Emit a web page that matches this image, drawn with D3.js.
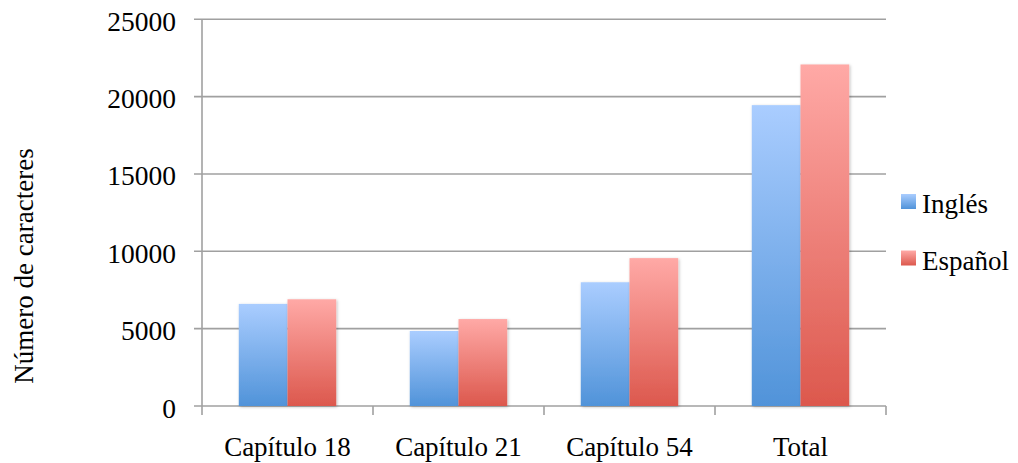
<html lang="es">
<head>
  <meta charset="utf-8">
  <title>Número de caracteres</title>
  <script src="https://d3js.org/d3.v7.min.js"></script>
  <style>
    body { margin: 0; background: #fff; }
    text { font-family: "Liberation Serif", "Times New Roman", serif; fill: #000; }
  </style>
</head>
<body>
  <svg width="1018" height="463"></svg>
  <script>
    const categories = ["Capítulo 18", "Capítulo 21", "Capítulo 54", "Total"];
    const series = ["Inglés", "Español"];
    const ingles = [6600, 4850, 8000, 19450];
    const espanol = [6900, 5620, 9560, 22080];
    const yTicks = [0, 5000, 10000, 15000, 20000, 25000];

    const values = [ingles, espanol];
    const svg = d3.select("svg");
    const plotLeft = 202, plotRight = 886, plotTop = 19.3, plotBottom = 406;

    const x0 = d3.scaleBand().domain(categories).range([plotLeft, plotRight]);
    const x1 = d3.scaleBand().domain(series).range([0, x0.bandwidth()]).paddingOuter(0.755);
    const y = d3.scaleLinear().domain([0, 25000]).range([plotBottom, plotTop]);

    const defs = svg.append("defs");
    const grads = [["gBlue", "#aacdff", "#5093d9"], ["gRed", "#ffa9a6", "#dc584d"]];
    grads.forEach(g => {
      const lg = defs.append("linearGradient").attr("id", g[0])
        .attr("x1", 0).attr("y1", 0).attr("x2", 0).attr("y2", 1);
      lg.append("stop").attr("offset", "0%").attr("stop-color", g[1]);
      lg.append("stop").attr("offset", "100%").attr("stop-color", g[2]);
    });
    defs.append("filter").attr("id", "shadow").attr("x", "-20%").attr("y", "-10%")
      .attr("width", "140%").attr("height", "120%")
      .append("feDropShadow").attr("dx", 1).attr("dy", 1).attr("stdDeviation", 1.5)
      .attr("flood-color", "#000").attr("flood-opacity", 0.25);

    // gridlines + y labels
    const grid = svg.append("g");
    grid.selectAll("line").data(yTicks).enter().append("line")
      .attr("x1", plotLeft - 8).attr("x2", plotRight)
      .attr("y1", d => y(d)).attr("y2", d => y(d))
      .attr("stroke", "#a0a0a0").attr("stroke-width", 1.6);
    grid.selectAll("text").data(yTicks).enter().append("text")
      .attr("x", 176).attr("y", d => y(d) + 11.5)
      .attr("text-anchor", "end").attr("font-size", 27.5)
      .text(d => d);

    // axis line and category ticks
    svg.append("line").attr("x1", plotLeft).attr("x2", plotLeft)
      .attr("y1", plotTop).attr("y2", plotBottom + 9)
      .attr("stroke", "#a0a0a0").attr("stroke-width", 1.6);
    svg.append("g").selectAll("line").data(categories).enter().append("line")
      .attr("x1", d => x0(d) + x0.bandwidth()).attr("x2", d => x0(d) + x0.bandwidth())
      .attr("y1", plotBottom).attr("y2", plotBottom + 9)
      .attr("stroke", "#a0a0a0").attr("stroke-width", 1.6);

    // bars
    const groups = svg.append("g").selectAll("g").data(categories).enter().append("g")
      .attr("transform", d => `translate(${x0(d)},0)`);
    groups.selectAll("rect")
      .data((d, i) => series.map((s, k) => ({ s: s, k: k, v: values[k][i] })))
      .enter().append("rect")
      .attr("x", d => x1(d.s))
      .attr("y", d => y(d.v))
      .attr("width", x1.bandwidth())
      .attr("height", d => plotBottom - y(d.v))
      .attr("fill", d => `url(#${grads[d.k][0]})`)
      .attr("filter", "url(#shadow)");

    // category labels
    svg.append("g").selectAll("text").data(categories).enter().append("text")
      .attr("x", d => x0(d) + x0.bandwidth() / 2).attr("y", 456)
      .attr("text-anchor", "middle").attr("font-size", 27)
      .text(d => d);

    // y title
    svg.append("text")
      .attr("transform", "translate(33,266) rotate(-90)")
      .attr("text-anchor", "middle").attr("font-size", 27)
      .text("Número de caracteres");

    // legend
    const leg = svg.append("g").selectAll("g").data(series).enter().append("g")
      .attr("transform", (d, i) => `translate(901,${194 + i * 56.5})`);
    leg.append("rect").attr("width", 15).attr("height", 15)
      .attr("fill", (d, i) => `url(#${grads[i][0]})`);
    leg.append("text").attr("x", 21).attr("y", 19).attr("font-size", 27)
      .text(d => d);
  </script>
</body>
</html>
